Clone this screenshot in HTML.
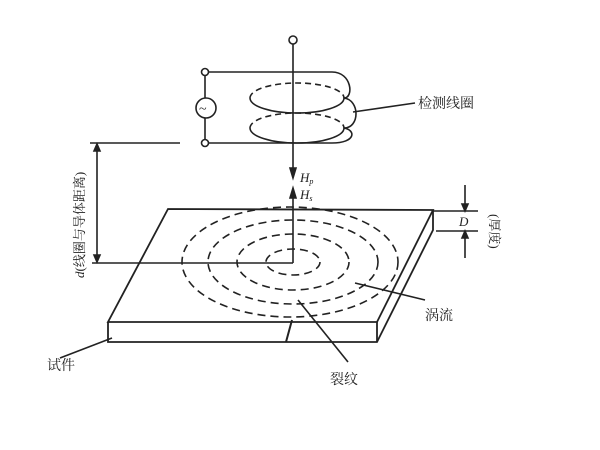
<!DOCTYPE html>
<html><head><meta charset="utf-8"><style>body{margin:0;background:#fff}svg{display:block}text{font-family:"Liberation Serif","Noto Serif CJK SC",serif;fill:#222}</style></head><body>
<svg width="600" height="450" viewBox="0 0 600 450" stroke="#222" fill="none" stroke-width="1.6">
<circle cx="293" cy="40" r="4" fill="#fff"/>
<line x1="293" y1="44" x2="293" y2="170"/>
<polygon points="290,168 296,168 293,178" fill="#222"/>
<text x="300" y="182" font-size="13" font-style="italic" stroke="none">H<tspan font-size="8" dy="2">p</tspan></text>
<polygon points="290,198 296,198 293,188" fill="#222"/>
<line x1="293" y1="196" x2="293" y2="263"/>
<text x="300" y="199" font-size="13" font-style="italic" stroke="none">H<tspan font-size="8" dy="2">s</tspan></text>
<circle cx="205" cy="72" r="3.5" fill="#fff"/><circle cx="205" cy="143" r="3.5" fill="#fff"/>
<line x1="208" y1="72" x2="332" y2="72"/><line x1="208" y1="143" x2="332" y2="143"/>
<line x1="205" y1="76" x2="205" y2="98"/><line x1="205" y1="118" x2="205" y2="140"/>
<circle cx="206" cy="108" r="10"/><text x="199" y="113" font-size="14" stroke="none">~</text>
<path d="M332,72 C352,72 354,98 344,98" /><path d="M250,98 A47,15 0 0 0 344,98"/>
<path d="M250,98 A47,15 0 0 1 344,98" stroke-dasharray="6,4"/>
<path d="M344,98 C360,100 360,128 344,128"/>
<path d="M250,128 A47,15 0 0 0 344,128"/>
<path d="M250,128 A47,15 0 0 1 344,128" stroke-dasharray="6,4"/>
<path d="M344,128 C356,130 356,143 332,143"/>
<line x1="353" y1="112" x2="415" y2="103"/>
<text x="418" y="108" font-size="14" stroke="none">检测线圈</text>
<line x1="90" y1="143" x2="180" y2="143"/><line x1="92" y1="263" x2="293" y2="263"/>
<line x1="97" y1="146" x2="97" y2="260"/>
<polygon points="94,151 100,151 97,144" fill="#222"/><polygon points="94,255 100,255 97,262" fill="#222"/>
<text transform="translate(84,278) rotate(-90)" font-size="13" stroke="none"><tspan font-style="italic">d</tspan>(线圈与导体距离)</text>
<polygon points="168,209 433,210 377,322 108,322" stroke-width="1.8"/>
<polyline points="433,210 433,230 377,342 108,342 108,322" stroke-width="1.8"/>
<line x1="377" y1="322" x2="377" y2="342" stroke-width="1.8"/>
<line x1="433" y1="211" x2="478" y2="211"/><line x1="436" y1="231" x2="478" y2="231"/>
<line x1="465" y1="185" x2="465" y2="210"/><line x1="465" y1="232" x2="465" y2="258"/>
<polygon points="462,204 468,204 465,211" fill="#222"/><polygon points="462,238 468,238 465,231" fill="#222"/>
<text x="459" y="226" font-size="13" font-style="italic" stroke="none">D</text>
<text transform="translate(490,214) rotate(90)" font-size="13" stroke="none">(厚度)</text>
<g stroke-dasharray="8,5" stroke-width="1.6">
<ellipse cx="293" cy="262" rx="27" ry="13"/>
<ellipse cx="293" cy="262" rx="56" ry="28"/>
<ellipse cx="293" cy="262" rx="85" ry="42"/>
<ellipse cx="290" cy="262" rx="108" ry="55"/>
</g>
<line x1="292" y1="320" x2="286" y2="342" stroke-width="2"/>
<line x1="355" y1="283" x2="425" y2="300"/>
<text x="425" y="320" font-size="14" stroke="none">涡流</text>
<line x1="298" y1="300" x2="348" y2="362"/>
<text x="330" y="384" font-size="14" stroke="none">裂纹</text>
<line x1="112" y1="338" x2="60" y2="358"/>
<text x="47" y="370" font-size="14" stroke="none">试件</text>
</svg></body></html>
